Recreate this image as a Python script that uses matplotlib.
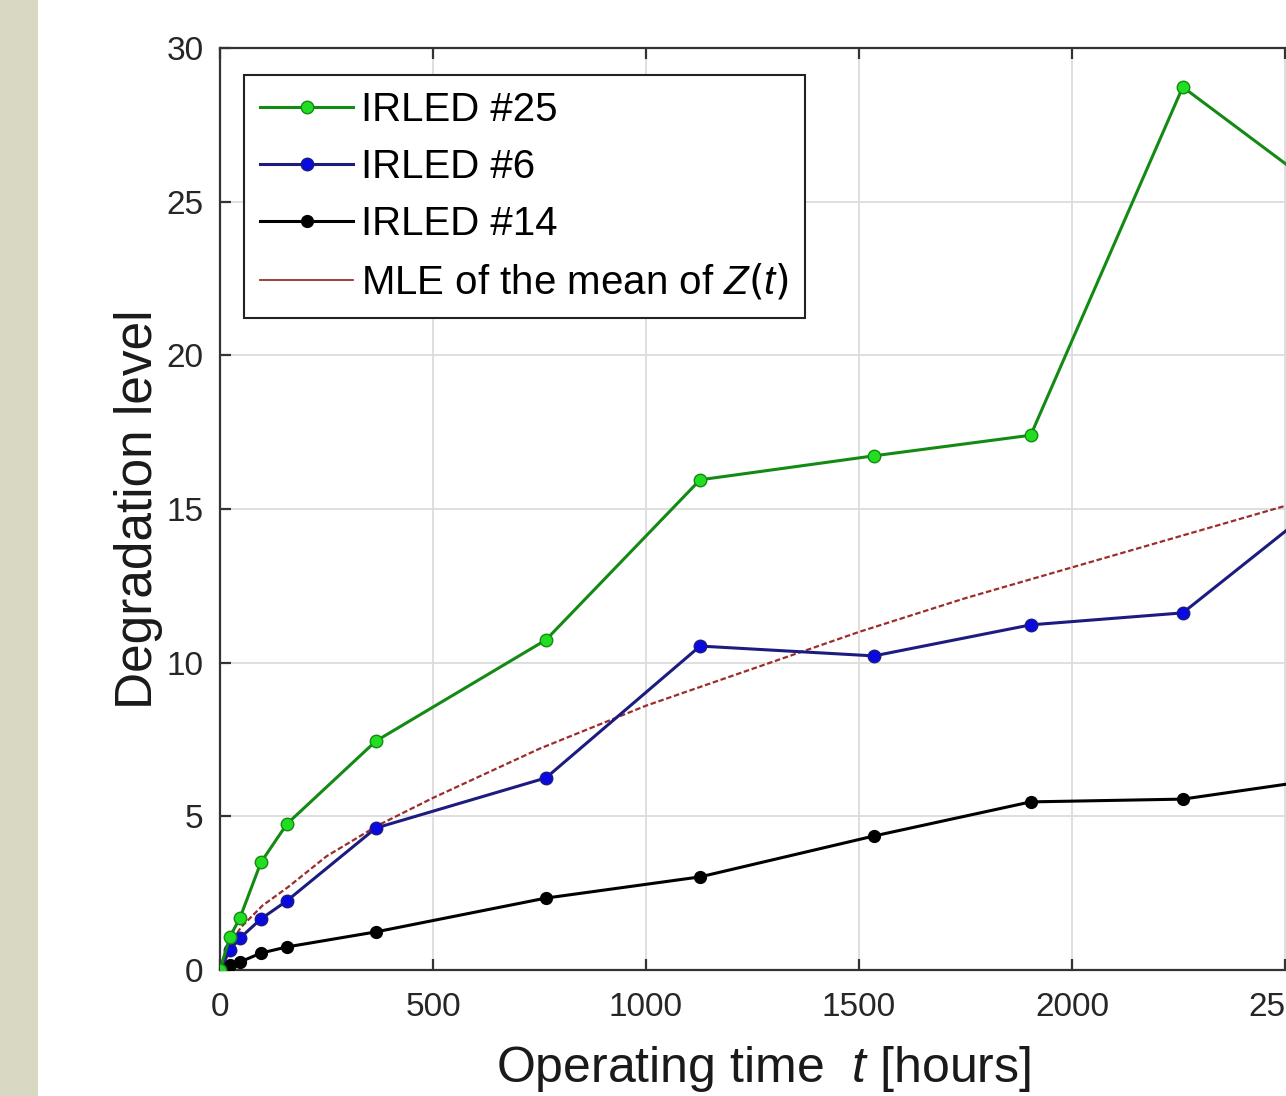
import numpy as np
import matplotlib.pyplot as plt
from matplotlib.lines import Line2D
from matplotlib.patches import Rectangle

plt.rcParams['font.family'] = ['Liberation Sans', 'DejaVu Sans']
plt.rcParams['mathtext.fontset'] = 'custom'
plt.rcParams['mathtext.it'] = 'Liberation Sans:italic'

# measurement times [hours]
t_meas = [0, 23, 47, 96, 157, 366, 765, 1127, 1535, 1903, 2260, 2630]

# degradation levels
irled25 = [0, 1.07, 1.7, 3.5, 4.75, 7.45, 10.74, 15.95, 16.73, 17.4, 28.73, 24.9]
irled6 = [0, 0.65, 1.04, 1.66, 2.25, 4.62, 6.25, 10.54, 10.22, 11.23, 11.62, 15.7]
irled14 = [0, 0.16, 0.26, 0.55, 0.75, 1.24, 2.34, 3.03, 4.36, 5.47, 5.56, 6.3]

# MLE mean curve, read at several times
t_mle = [0, 10, 25, 50, 100, 160, 250, 370, 500, 750, 1000, 1250, 1500,
         1750, 2000, 2250, 2500, 2750, 3000]
mle_mean = [0, 0.5, 0.9, 1.4, 2.1, 2.7, 3.7, 4.7, 5.6, 7.2, 8.6, 9.8, 11.0,
            12.1, 13.1, 14.1, 15.1, 16.0, 16.9]

W, H = 1286, 1096
fig = plt.figure(figsize=(W / 100, H / 100), dpi=100)
fig.patches.append(Rectangle((0, 0), 38 / W, 1, transform=fig.transFigure,
                             facecolor='#d9d9c3', edgecolor='none', zorder=0))

# axes run past the right edge of the picture, as in the cropped original
ax = fig.add_axes([220 / W, 126 / H, 1278 / W, 922 / H])

ax.plot(t_mle, mle_mean, color='#9b2d2d', lw=1.6, dashes=(2.5, 1.2), zorder=2)
ax.plot(t_meas, irled14, '-o', color='black', lw=2.2, ms=8.5,
        mfc='black', mec='black', zorder=3)
ax.plot(t_meas, irled6, '-o', color='#1c1c80', lw=2.2, ms=9,
        mfc='#0a0ae0', mec='#1c1c80', zorder=4)
ax.plot(t_meas, irled25, '-o', color='#138a13', lw=2.2, ms=9,
        mfc='#22dd22', mec='#138a13', zorder=5)

ax.set_xlim(0, 3000)
ax.set_ylim(0, 30)
ax.set_xticks(np.arange(0, 3001, 500))
ax.set_yticks(np.arange(0, 31, 5))
ax.grid(True, color='#dcdcdc', lw=1.3)
ax.set_axisbelow(True)

for s in ax.spines.values():
    s.set_color('#333333')
    s.set_linewidth(1.6)
ax.tick_params(direction='in', length=8, width=1.6, colors='#333333',
               labelsize=24, labelcolor='#262626', top=True, right=True)
ax.tick_params(axis='x', pad=16)
ax.tick_params(axis='y', pad=12)

ax.set_xlabel('Operating time  $t$ [hours]', fontsize=36, color='#1a1a1a')
ax.xaxis.set_label_coords(0.425, -0.08)
ax.set_ylabel('Degradation level', fontsize=37, labelpad=2, color='#1a1a1a')

handles = [
    Line2D([], [], color='#138a13', lw=2.2, marker='o', ms=9,
           mfc='#22dd22', mec='#138a13'),
    Line2D([], [], color='#1c1c80', lw=2.2, marker='o', ms=9,
           mfc='#0a0ae0', mec='#1c1c80'),
    Line2D([], [], color='black', lw=2.2, marker='o', ms=8.5),
    Line2D([], [], color='#9b2d2d', lw=1.3),
]
labels = ['IRLED #25', 'IRLED #6', 'IRLED #14', 'MLE of the mean of $Z(t)$']
leg = ax.legend(handles, labels, loc='upper left', bbox_to_anchor=(0.0, 0.997),
                bbox_transform=ax.transAxes, fontsize=29, frameon=True,
                fancybox=False, framealpha=1, edgecolor='#222222',
                handlelength=2.3, handletextpad=0.2, labelspacing=0.47,
                borderpad=0.4, borderaxespad=0.6)
leg.get_frame().set_linewidth(1.5)

fig.savefig('out.png', dpi=100)
